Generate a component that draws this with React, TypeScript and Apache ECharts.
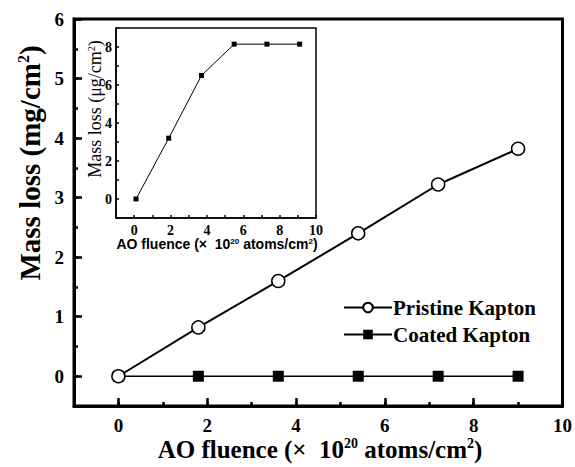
import React, { useEffect, useRef } from "react";
import * as echarts from "echarts";

const mainX = [0, 1.8, 3.6, 5.4, 7.2, 9];
const pristine = [0, 0.82, 1.6, 2.4, 3.22, 3.82];
const coated = [0, 0, 0, 0, 0, 0];
const insetX = [0.1, 1.9, 3.7, 5.5, 7.3, 9.1];
const insetY = [0, 3.2, 6.5, 8.15, 8.15, 8.15];
const mainXMajor = [0, 2, 4, 6, 8, 10];
const mainYMajor = [0, 1, 2, 3, 4, 5, 6];

const SERIF = "Liberation Serif";
const SANS = "Liberation Sans";

const tickAxis = (gridIndex: number, position: string, min: number, max: number, len: number, width: number, extra: any) => ({
  type: "value",
  gridIndex,
  position,
  min,
  max,
  offset: -len,
  z: gridIndex === 1 ? 4 : 2,
  splitLine: { show: false },
  axisLine: { show: true, onZero: false, lineStyle: { color: "rgba(0,0,0,0)", width: 1, opacity: 0 } },
  axisLabel: { show: false },
  axisTick: { show: true, inside: false, length: len, lineStyle: { color: "#000", width }, ...(extra.tick || {}) },
  ...(extra.axis || {}),
});

export default function App() {
  const ref = useRef<HTMLDivElement>(null);
  useEffect(() => {
    if (!ref.current) return;
    const chart = echarts.init(ref.current, null, { renderer: "svg" });
    const option: any = {
      animation: false,
      backgroundColor: "#fff",
      grid: [
        { left: 74, top: 19, width: 489, height: 387, show: true, borderColor: "#000", borderWidth: 3 },
        { left: 116, top: 28, width: 200, height: 190, show: true, borderColor: "#000", borderWidth: 1.5, backgroundColor: "#fff", z: 3 },
      ],
      xAxis: [
        {
          type: "value", gridIndex: 0, min: -1, max: 10, interval: 1, position: "bottom",
          splitLine: { show: false },
          axisLine: { show: true, onZero: false, lineStyle: { color: "#000", width: 3 } },
          axisTick: { show: false },
          axisLabel: {
            show: true, margin: 10, color: "#000", fontFamily: SERIF, fontWeight: "bold", fontSize: 19,
            formatter: (v: number) => (v >= 0 && v % 2 === 0 ? String(v) : ""),
          },
        },
        {
          type: "value", gridIndex: 1, min: -1, max: 10, interval: 1, position: "bottom", z: 4,
          splitLine: { show: false },
          axisLine: { show: true, onZero: false, lineStyle: { color: "#000", width: 1.5 } },
          axisTick: { show: false },
          axisLabel: {
            show: true, margin: 5, color: "#000", fontFamily: SERIF, fontWeight: "bold", fontSize: 14,
            formatter: (v: number) => (v >= 0 && v % 2 === 0 ? String(v) : ""),
          },
        },
        tickAxis(0, "bottom", -1, 10, 4, 2.5, { axis: { interval: 1 } }),
        tickAxis(0, "bottom", -1, 10, 8, 2.5, { tick: { customValues: mainXMajor } }),
        tickAxis(1, "bottom", -1, 10, 3, 1.5, { axis: { interval: 1 } }),
      ],
      yAxis: [
        {
          type: "value", gridIndex: 0, min: -0.5, max: 6, interval: 0.5, position: "left",
          splitLine: { show: false },
          axisLine: { show: true, onZero: false, lineStyle: { color: "#000", width: 3 } },
          axisTick: { show: false },
          axisLabel: {
            show: true, margin: 10, color: "#000", fontFamily: SERIF, fontWeight: "bold", fontSize: 19,
            formatter: (v: number) => (v >= 0 && Number.isInteger(v) ? String(v) : ""),
          },
        },
        {
          type: "value", gridIndex: 1, min: -1, max: 9, interval: 1, position: "left", z: 4,
          splitLine: { show: false },
          axisLine: { show: true, onZero: false, lineStyle: { color: "#000", width: 1.5 } },
          axisTick: { show: false },
          axisLabel: {
            show: true, margin: 4, color: "#000", fontFamily: SERIF, fontWeight: "bold", fontSize: 14,
            formatter: (v: number) => (v >= 0 && v % 2 === 0 ? String(v) : ""),
          },
        },
        tickAxis(0, "left", -0.5, 6, 4, 2.5, { axis: { interval: 0.5 } }),
        tickAxis(0, "left", -0.5, 6, 8, 2.5, { tick: { customValues: mainYMajor } }),
        tickAxis(1, "left", -1, 9, 3, 1.5, { axis: { interval: 1 } }),
      ],
      legend: {
        orient: "vertical",
        left: 338,
        top: 292,
        itemWidth: 48,
        itemHeight: 12,
        itemGap: 6,
        textStyle: { color: "#000", fontFamily: SERIF, fontWeight: "bold", fontSize: 21, padding: [0, 0, 0, -4] },
        data: ["Pristine Kapton", "Coated Kapton"],
      },
      series: [
        {
          name: "Pristine Kapton",
          type: "line",
          xAxisIndex: 0,
          yAxisIndex: 0,
          data: mainX.map((x, i) => [x, pristine[i]]),
          symbol: "circle",
          symbolSize: 13,
          lineStyle: { color: "#000", width: 2 },
          itemStyle: { color: "#fff", borderColor: "#000", borderWidth: 1.5 },
          z: 2,
        },
        {
          name: "Coated Kapton",
          type: "line",
          xAxisIndex: 0,
          yAxisIndex: 0,
          data: mainX.map((x, i) => [x, coated[i]]),
          symbol: "rect",
          symbolSize: 11,
          lineStyle: { color: "#000", width: 1.5 },
          itemStyle: { color: "#000", borderColor: "#000", borderWidth: 0 },
          z: 1,
        },
        {
          name: "inset",
          type: "line",
          xAxisIndex: 1,
          yAxisIndex: 1,
          data: insetX.map((x, i) => [x, insetY[i]]),
          symbol: "rect",
          symbolSize: 5,
          lineStyle: { color: "#000", width: 1 },
          itemStyle: { color: "#000" },
          z: 5,
        },
      ],
      graphic: [
        {
          type: "text",
          x: 320,
          y: 449,
          z: 10,
          style: {
            text: "AO fluence (×  10{sup|20} atoms/cm{sup|2})",
            align: "center",
            verticalAlign: "middle",
            fill: "#000",
            fontFamily: SERIF,
            fontWeight: "bold",
            fontSize: 25,
            rich: { sup: { fontSize: 14, fontFamily: SERIF, fontWeight: "bold", verticalAlign: "top", fill: "#000" } },
          },
        },
        {
          type: "text",
          x: 30,
          y: 163,
          rotation: Math.PI / 2,
          z: 10,
          style: {
            text: "Mass loss (mg/cm{sup|2})",
            align: "center",
            verticalAlign: "middle",
            fill: "#000",
            fontFamily: SERIF,
            fontWeight: "bold",
            fontSize: 29,
            rich: { sup: { fontSize: 16, fontFamily: SERIF, fontWeight: "bold", verticalAlign: "top", fill: "#000" } },
          },
        },
        {
          type: "text",
          x: 217,
          y: 244,
          z: 10,
          style: {
            text: "AO fluence (×  10{sup|20} atoms/cm{sup|2})",
            align: "center",
            verticalAlign: "middle",
            fill: "#000",
            fontFamily: SANS,
            fontWeight: "bold",
            fontSize: 14,
            rich: { sup: { fontSize: 8, fontFamily: SANS, fontWeight: "bold", verticalAlign: "top", fill: "#000" } },
          },
        },
        {
          type: "text",
          x: 95,
          y: 109,
          rotation: Math.PI / 2,
          z: 10,
          style: {
            text: "Mass loss (μg/cm{sup|2})",
            align: "center",
            verticalAlign: "middle",
            fill: "#000",
            fontFamily: SERIF,
            fontWeight: "normal",
            fontSize: 18,
            rich: { sup: { fontSize: 10, fontFamily: SERIF, fontWeight: "normal", verticalAlign: "top", fill: "#000" } },
          },
        },
      ],
    };
    chart.setOption(option);
    return () => chart.dispose();
  }, []);
  return <div ref={ref} style={{ position: "fixed", left: 0, top: 0, width: 575, height: 467 }} />;
}
